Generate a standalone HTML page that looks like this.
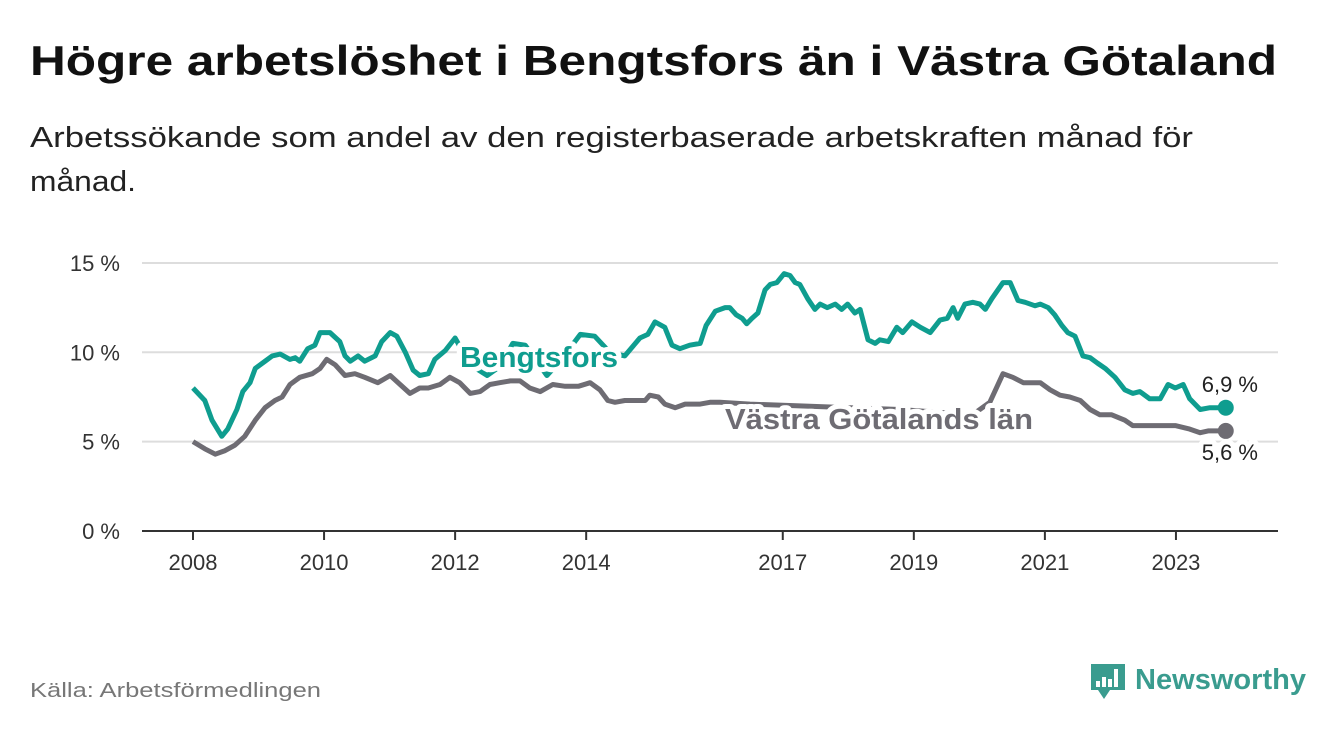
<!DOCTYPE html>
<html><head><meta charset="utf-8"><style>
body{margin:0;background:#fff;}
svg text{font-family:"Liberation Sans","DejaVu Sans",sans-serif;}
</style></head><body>
<svg id="chart" width="1340" height="734" viewBox="0 0 1340 734" xmlns="http://www.w3.org/2000/svg">
<text x="30" y="75" font-size="42" font-weight="bold" fill="#111" textLength="1247" lengthAdjust="spacingAndGlyphs">Högre arbetslöshet i Bengtsfors än i Västra Götaland</text>
<text x="30" y="147" font-size="29" fill="#222" textLength="1163" lengthAdjust="spacingAndGlyphs">Arbetssökande som andel av den registerbaserade arbetskraften månad för</text>
<text x="30" y="191" font-size="29" fill="#222" textLength="106" lengthAdjust="spacingAndGlyphs">månad.</text>
<g id="grid"></g><g id="series"></g><g id="labels"></g>
<text x="30" y="697" font-size="20" fill="#777" textLength="291" lengthAdjust="spacingAndGlyphs">Källa: Arbetsförmedlingen</text>
<g>
<path d="M1091 664 h34 v26 h-15 l-6 9 l-6 -9 h-7 z" fill="#3a9c8f"/>
<rect x="1096" y="681" width="4" height="6" fill="#fff"/><rect x="1102" y="677" width="4" height="10" fill="#fff"/><rect x="1108" y="679" width="4" height="8" fill="#fff"/><rect x="1114" y="669" width="4" height="18" fill="#fff"/>
<text x="1135" y="689" font-size="29" fill="#3a9c8f" font-weight="bold" textLength="171" lengthAdjust="spacingAndGlyphs">Newsworthy</text>
</g>
</svg>
<script>
const yTicks=[0,5,10,15];
const xTickYears=[2008,2010,2012,2014,2017,2019,2021,2023];
const bDates=[0,0.18,0.29,0.44,0.53,0.67,0.76,0.87,0.95,1.10,1.21,1.33,1.48,1.56,1.63,1.75,1.86,1.94,2.09,2.24,2.32,2.40,2.52,2.62,2.78,2.88,3.01,3.11,3.24,3.36,3.46,3.59,3.69,3.85,4.00,4.23,4.49,4.68,4.88,5.07,5.40,5.60,5.91,6.13,6.36,6.59,6.82,6.94,7.05,7.20,7.31,7.43,7.58,7.74,7.83,7.97,8.12,8.19,8.29,8.38,8.45,8.53,8.62,8.73,8.81,8.91,9.02,9.11,9.19,9.26,9.38,9.49,9.57,9.68,9.80,9.90,9.99,10.10,10.18,10.30,10.41,10.48,10.61,10.74,10.83,10.97,11.10,11.25,11.40,11.51,11.60,11.67,11.78,11.90,12.01,12.09,12.19,12.36,12.47,12.59,12.70,12.85,12.93,13.05,13.15,13.26,13.35,13.46,13.58,13.69,13.80,13.92,14.07,14.22,14.34,14.45,14.60,14.76,14.88,14.99,15.11,15.21,15.37,15.52,15.76];
const bValues=[8.0,7.3,6.2,5.3,5.7,6.8,7.8,8.3,9.1,9.5,9.8,9.9,9.6,9.7,9.5,10.2,10.4,11.1,11.1,10.6,9.8,9.5,9.8,9.5,9.8,10.6,11.1,10.9,10.0,9.0,8.7,8.8,9.6,10.1,10.8,9.3,8.7,9.2,10.5,10.4,8.7,9.5,11.0,10.9,10.0,9.8,10.8,11.0,11.7,11.4,10.4,10.2,10.4,10.5,11.5,12.3,12.5,12.5,12.1,11.9,11.6,11.9,12.2,13.5,13.8,13.9,14.4,14.3,13.9,13.8,13.0,12.4,12.7,12.5,12.7,12.4,12.7,12.2,12.4,10.7,10.5,10.7,10.6,11.4,11.1,11.7,11.4,11.1,11.8,11.9,12.5,11.9,12.7,12.8,12.7,12.4,13.0,13.9,13.9,12.9,12.8,12.6,12.7,12.5,12.1,11.5,11.1,10.9,9.8,9.7,9.4,9.1,8.6,7.9,7.7,7.8,7.4,7.4,8.2,8.0,8.2,7.4,6.8,6.9,6.9];
const gDates=[0,0.18,0.34,0.49,0.64,0.79,0.95,1.10,1.25,1.36,1.48,1.63,1.82,1.94,2.04,2.17,2.32,2.47,2.62,2.82,3.01,3.16,3.31,3.46,3.59,3.77,3.92,4.07,4.23,4.38,4.53,4.68,4.84,4.99,5.14,5.30,5.49,5.68,5.88,6.06,6.21,6.33,6.44,6.59,6.90,6.97,7.10,7.20,7.36,7.51,7.74,7.89,8.04,8.50,9.26,10.03,10.79,11.55,11.93,12.16,12.36,12.51,12.67,12.77,12.93,13.08,13.23,13.38,13.54,13.69,13.84,14.02,14.22,14.34,14.83,14.99,15.21,15.37,15.49,15.76];
const gValues=[5.0,4.6,4.3,4.5,4.8,5.3,6.2,6.9,7.3,7.5,8.2,8.6,8.8,9.1,9.6,9.3,8.7,8.8,8.6,8.3,8.7,8.2,7.7,8.0,8.0,8.2,8.6,8.3,7.7,7.8,8.2,8.3,8.4,8.4,8.0,7.8,8.2,8.1,8.1,8.3,7.9,7.3,7.2,7.3,7.3,7.6,7.5,7.1,6.9,7.1,7.1,7.2,7.2,7.1,7.0,6.9,6.8,6.6,6.6,7.2,8.8,8.6,8.3,8.3,8.3,7.9,7.6,7.5,7.3,6.8,6.5,6.5,6.2,5.9,5.9,5.9,5.7,5.5,5.6,5.6];
const NS="http://www.w3.org/2000/svg";
const X=t=>193+t*65.53, Xy=y=>X(y-2008), Y=v=>531-v*17.87;
function mk(tag,at,parent){const e=document.createElementNS(NS,tag);for(const k in at)e.setAttribute(k,at[k]);parent.appendChild(e);return e;}
const grid=document.getElementById('grid'),ser=document.getElementById('series'),lab=document.getElementById('labels');
yTicks.forEach(v=>{
 const l=mk('line',{x1:142,x2:1278,y1:Y(v),y2:Y(v),stroke:v===0?'#333':'#ddd','stroke-width':2},grid);
 
 
 const t=mk('text',{x:120,y:Y(v)+8,'text-anchor':'end','font-size':22,fill:'#333'},grid);
 t.textContent=v+' %';
 
 
});
xTickYears.forEach(yr=>{
 const l=mk('line',{x1:Xy(yr),x2:Xy(yr),y1:531,y2:540,stroke:'#333','stroke-width':2},grid);
 
 
 const t=mk('text',{x:Xy(yr),y:570,'text-anchor':'middle','font-size':22,fill:'#333'},grid);
 t.textContent=yr;
 
 
});
function line(d,v,col,name){
 const p=mk('path',{d:d.map((t,i)=>(i?'L':'M')+X(t).toFixed(1)+','+Y(v[i]).toFixed(1)).join(''),fill:'none',stroke:col,'stroke-width':5,'stroke-linejoin':'round'},ser);
 
 
 const c=mk('circle',{cx:X(d[d.length-1]),cy:Y(v[v.length-1]),r:8,fill:col},ser);
 
 
}
line(gDates,gValues,'#6e6c73','vastra-gotaland');
line(bDates,bValues,'#0f9d8f','bengtsfors');
function label(txt,x,y,col,size,bold,name,anchor,len){
 const at={x:x,y:y,'font-size':size,'font-weight':bold?'bold':'normal',fill:col,stroke:'#fff','stroke-width':10,'paint-order':'stroke','stroke-linejoin':'round','text-anchor':anchor||'start'};
 if(len){at.textLength=len;at.lengthAdjust='spacingAndGlyphs';}
 const t=mk('text',at,lab);
 t.textContent=txt;
 
 
}
label('Bengtsfors',460,367,'#0f9d8f',29,true,'bengtsfors-label','start',158);
label('Västra Götalands län',725,429,'#6e6c73',29,true,'vastra-gotaland-label','start',308);
label('6,9 %',1258,392,'#222',22,false,'bengtsfors-value','end');
label('5,6 %',1258,460,'#222',22,false,'vastra-gotaland-value','end');
</script>
</body></html>
